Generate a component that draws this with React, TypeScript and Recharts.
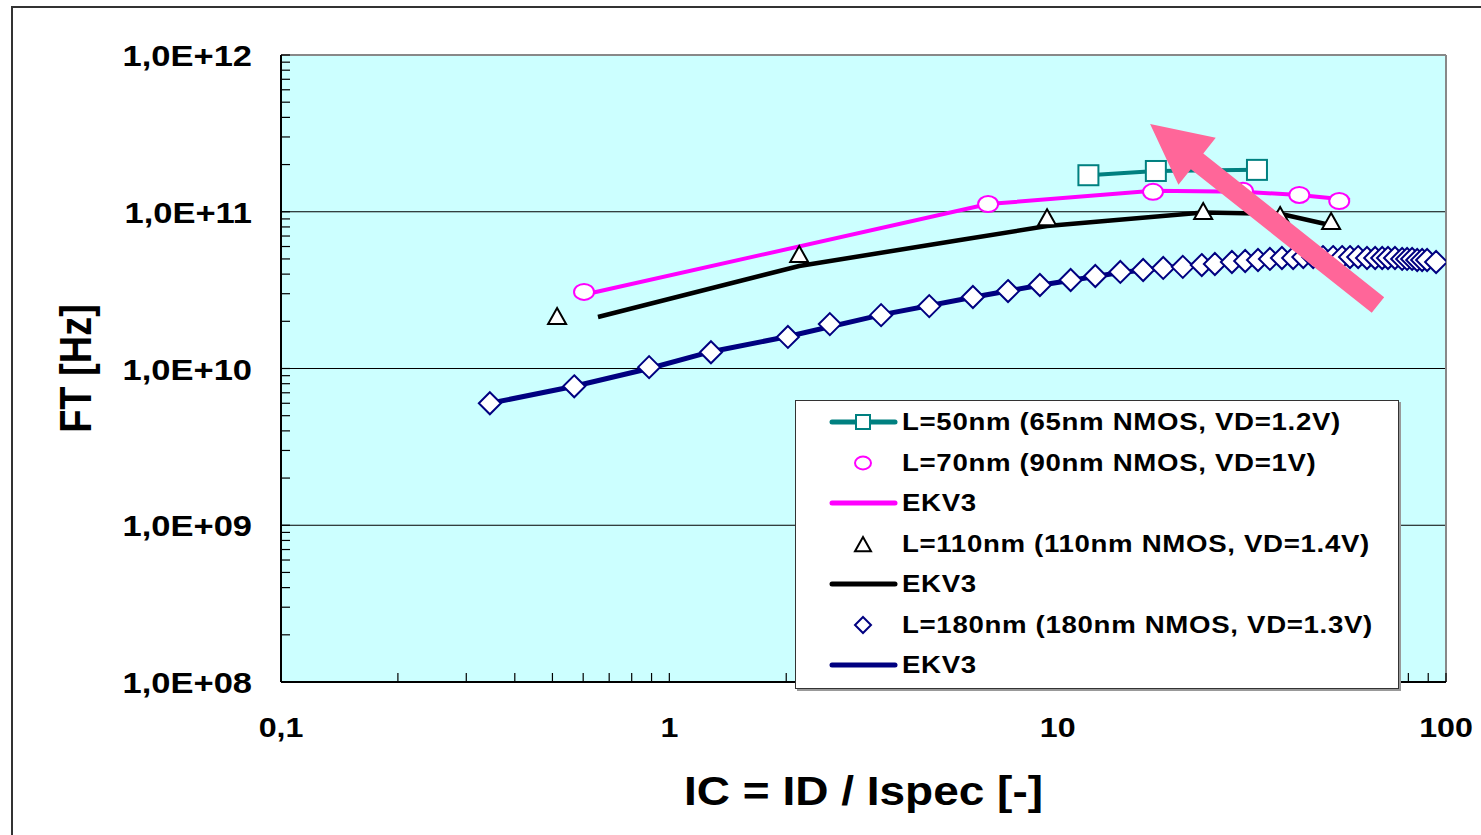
import React from 'react';
import {
  ComposedChart, Line, Scatter, XAxis, YAxis, ReferenceLine, Legend, Label,
} from 'recharts';

// L=50nm (65nm NMOS, VD=1.2V) - measured, drawn with line
const icL50 = [12.0, 17.9, 32.6];
const ftL50 = [1.71e11, 1.82e11, 1.85e11];

// L=70nm (90nm NMOS, VD=1V) - measured
const icL70 = [0.603, 6.62, 17.6, 30.0, 41.9, 53.1];
const ftL70 = [3.08e10, 1.12e11, 1.34e11, 1.36e11, 1.28e11, 1.17e11];
// EKV3 for L=70nm
const icEkv70 = [0.63, 6.62, 17.6, 30.0, 41.9, 56.6];
const ftEkv70 = [3.03e10, 1.12e11, 1.36e11, 1.34e11, 1.28e11, 1.19e11];

// L=110nm (110nm NMOS, VD=1.4V) - measured
const icL110 = [0.514, 2.16, 9.39, 23.7, 37.4, 50.6];
const ftL110 = [2.13e10, 5.3e10, 9.1e10, 9.96e10, 9.4e10, 8.6e10];
// EKV3 for L=110nm
const icEkv110 = [0.655, 2.16, 5.61, 9.39, 23.7, 37.4, 50.6];
const ftEkv110 = [2.13e10, 4.51e10, 6.6e10, 8.11e10, 9.9e10, 9.7e10, 8.2e10];

// L=180nm (180nm NMOS, VD=1.3V) - measured
const icL180 = [
  0.345, 0.569, 0.887, 1.28, 2.02, 2.59, 3.51, 4.67, 6.05, 7.45, 9.0, 10.8, 12.5, 14.5, 16.6,
  18.7, 21.0, 23.5, 25.4, 28.1, 30.4, 32.8, 35.2, 37.8, 40.4, 42.9, 45.5, 48.2, 51.2, 54.0,
  56.6, 59.4, 62.6, 65.7, 68.5, 70.9, 73.9, 77.1, 79.4, 81.8, 84.3, 86.8, 89.4, 94.3,
];
const ftL180 = [
  6.0e9, 7.7e9, 1.02e10, 1.27e10, 1.59e10, 1.92e10, 2.19e10, 2.5e10, 2.86e10, 3.12e10, 3.41e10,
  3.67e10, 3.89e10, 4.13e10, 4.25e10, 4.38e10, 4.45e10, 4.57e10, 4.64e10, 4.78e10, 4.85e10,
  4.92e10, 5.0e10, 5.07e10, 5.07e10, 5.14e10, 5.14e10, 5.14e10, 5.14e10, 5.14e10, 5.14e10,
  5.14e10, 5.07e10, 5.07e10, 5.07e10, 5.07e10, 5.07e10, 5.0e10, 5.0e10, 5.0e10, 4.92e10,
  4.92e10, 4.92e10, 4.78e10,
];
// EKV3 for L=180nm
const icEkv180 = [0.345, 0.569, 0.887, 1.28, 2.02, 3.51, 6.05, 9.0, 14.5, 21.0, 30.4, 42.9, 56.6, 73.9, 94.3];
const ftEkv180 = [6.0e9, 7.7e9, 1.0e10, 1.28e10, 1.6e10, 2.2e10, 2.85e10, 3.4e10, 4.1e10, 4.5e10, 4.85e10, 5.1e10, 5.12e10, 5.05e10, 4.8e10];

// the pink arrow (tail -> tip), in data units
const arrowIc = [66.8, 17.3];
const arrowFt = [2.54e10, 3.63e11];

const xMajor = [0.1, 1, 10, 100];
const xTickLabels = ['0,1', '1', '10', '100'];
const xMinor = [0.2, 0.3, 0.4, 0.5, 0.6, 0.7, 0.8, 0.9, 2, 3, 4, 5, 6, 7, 8, 9, 20, 30, 40, 50, 60, 70, 80, 90];

const yMajor = [1e8, 1e9, 1e10, 1e11, 1e12];
const yTickLabels = ['1,0E+08', '1,0E+09', '1,0E+10', '1,0E+11', '1,0E+12'];
const yMinor = [
  2e8, 3e8, 4e8, 5e8, 6e8, 7e8, 8e8, 9e8, 2e9, 3e9, 4e9, 5e9, 6e9, 7e9, 8e9, 9e9,
  2e10, 3e10, 4e10, 5e10, 6e10, 7e10, 8e10, 9e10, 2e11, 3e11, 4e11, 5e11, 6e11, 7e11, 8e11, 9e11,
];

const legendItems = [
  { text: 'L=50nm (65nm NMOS, VD=1.2V)', icon: 'lineSquare', color: '#008080' },
  { text: 'L=70nm (90nm NMOS, VD=1V)', icon: 'circle', color: '#FF00FF' },
  { text: 'EKV3', icon: 'line', color: '#FF00FF' },
  { text: 'L=110nm (110nm NMOS, VD=1.4V)', icon: 'triangle', color: '#000000' },
  { text: 'EKV3', icon: 'line', color: '#000000' },
  { text: 'L=180nm (180nm NMOS, VD=1.3V)', icon: 'diamond', color: '#000080' },
  { text: 'EKV3', icon: 'line', color: '#000080' },
];

const zip = (xs: number[], ys: number[]) => xs.map((x, i) => ({ x, y: ys[i] }));

const FONT = '"Liberation Sans", Arial, sans-serif';

const square = (cx: number, cy: number, s: number, color: string, key?: any) => (
  <rect key={key} x={cx - s} y={cy - s} width={s * 2} height={s * 2} fill="#fff" stroke={color} strokeWidth={2} />
);
const ellipse = (cx: number, cy: number, s: number, color: string) => (
  <ellipse cx={cx} cy={cy} rx={s} ry={s * 0.8} fill="#fff" stroke={color} strokeWidth={2} />
);
const triangle = (cx: number, cy: number, s: number, color: string) => (
  <path d={`M${cx},${cy - s} L${cx + s},${cy + s * 0.78} L${cx - s},${cy + s * 0.78} Z`} fill="#fff" stroke={color} strokeWidth={2} />
);
const diamond = (cx: number, cy: number, s: number, color: string) => (
  <path d={`M${cx},${cy - s} L${cx + s},${cy} L${cx},${cy + s} L${cx - s},${cy} Z`} fill="#fff" stroke={color} strokeWidth={2} />
);

const renderXTick = (props: any) => {
  const { x, y, payload } = props;
  const i = xMajor.indexOf(payload.value);
  return (
    <g>
      <line x1={x} x2={x} y1={y} y2={y - 9} stroke="#000" strokeWidth={1.2} />
      {i >= 0 && (
        <g transform={`translate(${x},${y + 55}) scale(1.15,1)`}>
          <text x={0} y={0} textAnchor="middle" fontSize={28} fontWeight="bold" fontFamily={FONT} fill="#000">
            {xTickLabels[i]}
          </text>
        </g>
      )}
    </g>
  );
};

const renderYTick = (props: any) => {
  const { x, y, payload } = props;
  const i = yMajor.indexOf(payload.value);
  return (
    <g>
      <line x1={x} x2={x + 9} y1={y} y2={y} stroke="#000" strokeWidth={1.2} />
      {i >= 0 && (
        <g transform={`translate(${x - 29},${y + 11}) scale(1.15,1)`}>
          <text x={0} y={0} textAnchor="end" fontSize={30} fontWeight="bold" fontFamily={FONT} fill="#000">
            {yTickLabels[i]}
          </text>
        </g>
      )}
    </g>
  );
};

const renderArrow = (props: any) => {
  const { x1, y1, x2, y2 } = props;
  const dx = x2 - x1;
  const dy = y2 - y1;
  const len = Math.sqrt(dx * dx + dy * dy);
  const ux = dx / len;
  const uy = dy / len;
  const nx = -uy;
  const ny = ux;
  const shaft = 10;
  const head = 30;
  const headLen = 60;
  const bx = x2 - ux * headLen;
  const by = y2 - uy * headLen;
  const pts = [
    [x1 + nx * shaft, y1 + ny * shaft],
    [bx + nx * shaft, by + ny * shaft],
    [bx + nx * head, by + ny * head],
    [x2, y2],
    [bx - nx * head, by - ny * head],
    [bx - nx * shaft, by - ny * shaft],
    [x1 - nx * shaft, y1 - ny * shaft],
  ];
  return <polygon points={pts.map((p) => p.join(',')).join(' ')} fill="#FF6699" />;
};

const LegendIcon = ({ icon, color }: { icon: string; color: string }) => (
  <svg width={70} height={30} style={{ position: 'absolute', left: 33, top: 5 }}>
    {(icon === 'line' || icon === 'lineSquare') && (
      <line x1={3} x2={66} y1={15} y2={15} stroke={color} strokeWidth={5} strokeLinecap="round" />
    )}
    {icon === 'lineSquare' && square(34, 15, 7, color)}
    {icon === 'circle' && ellipse(34, 15, 8, color)}
    {icon === 'triangle' && triangle(34, 16, 8, color)}
    {icon === 'diamond' && diamond(34, 15, 8, color)}
  </svg>
);

const renderLegend = () => (
  <div
    style={{
      width: 604,
      height: 289,
      boxSizing: 'border-box',
      background: '#fff',
      border: '1px solid #333',
      boxShadow: '2px 2px 0 #999',
      paddingTop: 1,
      fontFamily: FONT,
    }}
  >
    {legendItems.map((it, i) => (
      <div key={i} style={{ position: 'relative', height: 40.5 }}>
        <LegendIcon icon={it.icon} color={it.color} />
        <span
          style={{
            position: 'absolute',
            left: 106,
            top: 5,
            fontSize: 24,
            lineHeight: '30px',
            fontWeight: 'bold',
            whiteSpace: 'nowrap',
            letterSpacing: 0.6,
            transform: 'scaleX(1.15)',
            transformOrigin: 'left center',
            color: '#000',
          }}
        >
          {it.text}
        </span>
      </div>
    ))}
  </div>
);

export default function App() {
  return (
    <div style={{ position: 'absolute', left: 0, top: 0, width: 1481, height: 835, background: '#fff', overflow: 'hidden' }}>
      <div
        style={{
          position: 'absolute', left: 11, top: 6, width: 1500, height: 900,
          border: '2px solid #333', boxSizing: 'border-box',
        }}
      />
      <ComposedChart
        width={1481}
        height={835}
        margin={{ top: 55, right: 35, bottom: 0, left: 0 }}
        style={{ position: 'absolute', left: 0, top: 0 }}
      >
        <XAxis
          dataKey="x"
          type="number"
          scale="log"
          domain={[0.1, 100]}
          allowDataOverflow
          ticks={[...xMajor, ...xMinor]}
          interval={0}
          tick={renderXTick}
          tickLine={false}
          tickSize={0}
          tickMargin={0}
          axisLine={{ stroke: '#000', strokeWidth: 2 }}
          height={153}
        >
          <Label
            content={(p: any) => {
              const vb = p.viewBox;
              const cx = vb.x + vb.width / 2;
              return (
                <g transform={`translate(${cx},805) scale(1.15,1)`}>
                  <text x={0} y={0} textAnchor="middle" fontSize={40} fontWeight="bold" fontFamily={FONT} fill="#000">
                    IC = ID / Ispec [-]
                  </text>
                </g>
              );
            }}
          />
        </XAxis>
        <YAxis
          type="number"
          scale="log"
          domain={[1e8, 1e12]}
          allowDataOverflow
          ticks={[...yMajor, ...yMinor]}
          interval={0}
          tick={renderYTick}
          tickLine={false}
          tickSize={0}
          tickMargin={0}
          axisLine={{ stroke: '#000', strokeWidth: 2 }}
          width={281}
        >
          <Label
            content={(p: any) => {
              const vb = p.viewBox;
              const cy = vb.y + vb.height / 2;
              return (
                <g transform={`translate(91,${cy}) rotate(-90) scale(1,1.15)`}>
                  <text x={0} y={0} textAnchor="middle" fontSize={38} fontWeight="bold" fontFamily={FONT} fill="#000">
                    FT [Hz]
                  </text>
                </g>
              );
            }}
          />
        </YAxis>

        {/* plot background */}
        <ReferenceLine
          segment={[{ x: 0.1, y: 1e12 }, { x: 100, y: 1e8 }]}
          shape={(p: any) => (
            <rect x={p.x1} y={p.y1} width={p.x2 - p.x1} height={p.y2 - p.y1} fill="#CCFFFF" />
          )}
        />
        {yMajor.slice(1, 4).map((v) => (
          <ReferenceLine key={v} y={v} stroke="#000" strokeWidth={1} />
        ))}
        <ReferenceLine y={1e12} stroke="#888" strokeWidth={2} />
        <ReferenceLine x={100} stroke="#888" strokeWidth={2} />

        <Line data={zip(icEkv180, ftEkv180)} dataKey="y" stroke="#000080" strokeWidth={5} dot={false} isAnimationActive={false} legendType="none" />
        <Line data={zip(icEkv110, ftEkv110)} dataKey="y" stroke="#000" strokeWidth={4.5} dot={false} isAnimationActive={false} legendType="none" />
        <Line data={zip(icEkv70, ftEkv70)} dataKey="y" stroke="#FF00FF" strokeWidth={4} dot={false} isAnimationActive={false} legendType="none" />
        <Line
          data={zip(icL50, ftL50)}
          dataKey="y"
          stroke="#008080"
          strokeWidth={4}
          dot={(p: any) => square(p.cx, p.cy, 10, '#008080', p.index)}
          isAnimationActive={false}
          legendType="none"
        />
        <Scatter data={zip(icL180, ftL180)} dataKey="y" shape={(p: any) => diamond(p.cx, p.cy, 11, '#000080')} isAnimationActive={false} legendType="none" />
        <Scatter data={zip(icL110, ftL110)} dataKey="y" shape={(p: any) => triangle(p.cx, p.cy, 9, '#000')} isAnimationActive={false} legendType="none" />
        <Scatter data={zip(icL70, ftL70)} dataKey="y" shape={(p: any) => ellipse(p.cx, p.cy, 10, '#FF00FF')} isAnimationActive={false} legendType="none" />

        <ReferenceLine
          segment={[{ x: arrowIc[0], y: arrowFt[0] }, { x: arrowIc[1], y: arrowFt[1] }]}
          shape={renderArrow}
          zIndex={2000}
        />

        <Legend
          content={renderLegend}
          layout="horizontal"
          verticalAlign="middle"
          align="center"
          wrapperStyle={{ left: 795, top: 400, width: 604, height: 289 }}
        />
      </ComposedChart>
    </div>
  );
}
